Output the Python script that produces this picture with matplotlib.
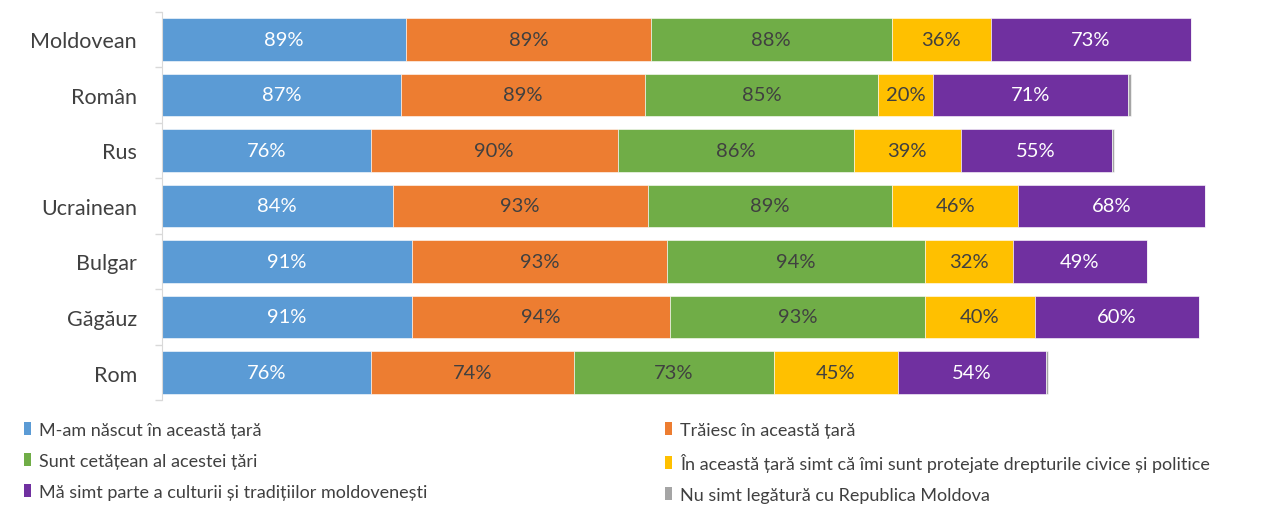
import numpy as np
import matplotlib.pyplot as plt
from matplotlib.patches import Patch

plt.rcParams['font.family'] = ['Lato', 'DejaVu Sans']

categories = ["Moldovean", "Român", "Rus", "Ucrainean", "Bulgar", "Găgăuz", "Rom"]
series_names = [
    "M-am născut în această țară",
    "Trăiesc în această țară",
    "Sunt cetățean al acestei țări",
    "În această țară simt că îmi sunt protejate drepturile civice și politice",
    "Mă simt parte a culturii și tradițiilor moldovenești",
    "Nu simt legătură cu Republica Moldova",
]
born = [89, 87, 76, 84, 91, 91, 76]
live = [89, 89, 90, 93, 93, 94, 74]
citizen = [88, 85, 86, 89, 94, 93, 73]
rights = [36, 20, 39, 46, 32, 40, 45]
culture = [73, 71, 55, 68, 49, 60, 54]
no_link = [0, 1, 1, 0, 0, 0, 1]

colors = ["#5B9BD5", "#ED7D31", "#70AD47", "#FFC000", "#7030A0", "#A5A5A5"]
label_colors = ["white", "#404040", "#404040", "#404040", "white", None]

fig = plt.figure(figsize=(12.69, 5.06), dpi=100)
ax = fig.add_axes([0.1277, 0.207, 0.865, 0.768])

y = np.arange(len(categories))
left = np.zeros(len(categories))
data = [born, live, citizen, rights, culture, no_link]
for vals, col, lc in zip(data, colors, label_colors):
    vals = np.array(vals, dtype=float)
    ax.barh(y, vals, left=left, height=0.77, color=col, edgecolor="white", linewidth=0.4)
    if lc is not None:
        for yi, (l, v) in enumerate(zip(left, vals)):
            if v > 0:
                ax.text(l + v / 2, yi, f"{int(v)}%", ha="center", va="center",
                        color=lc, fontsize=14.5)
    left += vals

ax.set_xlim(0, 400)
ax.set_ylim(len(categories) - 0.5, -0.5)
ax.set_yticks(y)
ax.set_yticklabels(categories, fontsize=15.5, color="#404040")
ax.set_yticks(np.arange(-0.5, len(categories), 1), minor=True)
ax.tick_params(axis="y", which="major", length=0, pad=18)
ax.tick_params(axis="y", which="minor", length=5, color="#d9d9d9", width=1)
ax.set_xticks([])
for s in ["top", "right", "bottom"]:
    ax.spines[s].set_visible(False)
ax.spines["left"].set_color("#d9d9d9")

handles = [Patch(facecolor=c, edgecolor="none") for c in colors]
leg_kw = dict(frameon=False, fontsize=13, handlelength=0.4, handleheight=0.75,
              handletextpad=0.45, labelspacing=0.82, labelcolor="#404040",
              borderaxespad=0, borderpad=0)
fig.legend(handles[0::2], series_names[0::2], loc="upper left",
           bbox_to_anchor=(0.019, 0.164), **leg_kw)
fig.legend(handles[1::2], series_names[1::2], loc="upper left",
           bbox_to_anchor=(0.524, 0.164), **leg_kw)

fig.savefig("out.png", dpi=100)
